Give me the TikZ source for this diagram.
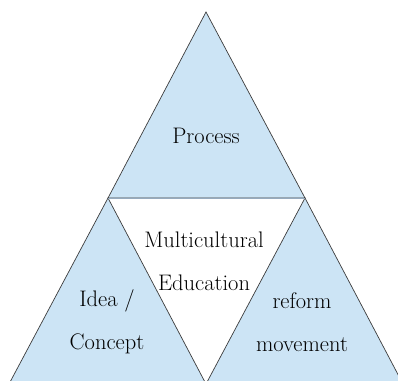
\documentclass[tikz,border=0pt]{standalone}
\usetikzlibrary{positioning}
\definecolor{paleblue}{RGB}{204,228,245}
\definecolor{edgegray}{RGB}{60,60,60}
\definecolor{barblue}{RGB}{150,170,190}

\begin{document}
\begin{tikzpicture}[x=1pt,y=-1pt,
	part/.style={fill=paleblue,draw=edgegray,line width=0.7pt},
	label/.style={align=center,inner sep=0pt,font=\fontsize{22.5}{43}\selectfont}]
		\useasboundingbox (0,0) rectangle (398,380);
		\coordinate (top) at (206,12);
		\coordinate (ml) at (108,198);
		\coordinate (mr) at (305,198);
		\coordinate (bl) at (9,384);
		\coordinate (bm) at (206,384);
		\coordinate (br) at (403,384);
		
		\draw[part] (top) -- (ml) -- (mr) -- cycle;
		\draw[part] (ml) -- (bl) -- (bm) -- cycle;
		\draw[part] (mr) -- (bm) -- (br) -- cycle;
		\draw[barblue,line width=1pt] (ml) -- (mr);
		
		\node[label] (process) at (206,136) {Process};
		\node[label] (multi) at (204,261) {Multicultural\\Education};
		\node[label] (idea) at (107,322) {Idea /\\Concept};
		\node[label] (reform) at (302,322) {reform\\movement};
		
	\end{tikzpicture}
\end{document}
